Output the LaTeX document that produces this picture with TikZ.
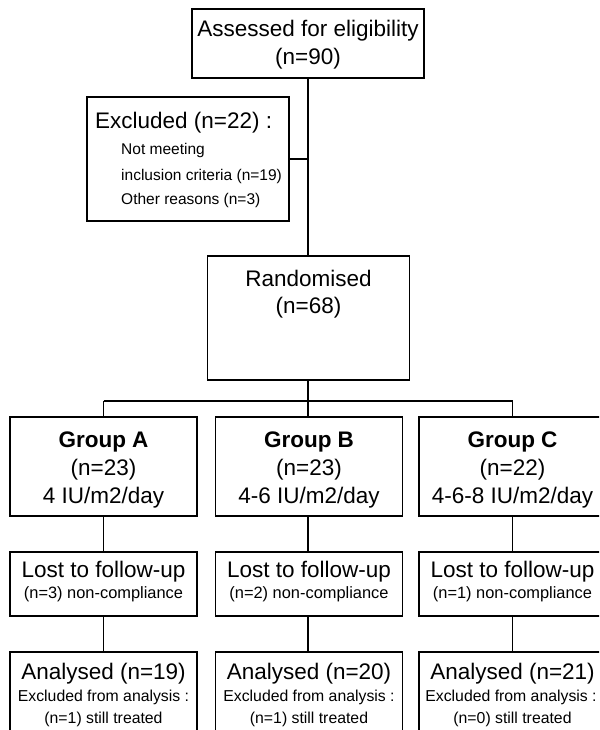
\documentclass[tikz,border=0pt]{standalone}
\usepackage{fontspec}
\setmainfont{Liberation Sans}
\begin{document}
\begin{tikzpicture}[x=1pt,y=-1pt,
  box/.style={draw=black, line width=1.9pt, rectangle, inner sep=0pt},
  conn/.style={draw=black, line width=1.9pt},
  big/.style={font=\fontsize{22.5}{27}\selectfont, inner sep=0pt, anchor=base},
  bigb/.style={font=\fontsize{22.5}{27}\selectfont\bfseries, inner sep=0pt, anchor=base},
  small/.style={font=\fontsize{15.5}{18}\selectfont, inner sep=0pt, anchor=base},
  smallb/.style={font=\fontsize{16.4}{19}\selectfont, inner sep=0pt, anchor=base},
  smalla/.style={font=\fontsize{15.8}{19}\selectfont, inner sep=0pt, anchor=base},
  grp/.style={box, minimum width=187pt, minimum height=99pt},
  lost/.style={box, minimum width=187pt, minimum height=64pt},
  anl/.style={box, minimum width=187pt, minimum height=108pt}]
\useasboundingbox (0,0) rectangle (599,730);
\fill[white] (0,0) rectangle (599,730);
\clip (0,0) rectangle (599,730);

% top boxes
\node[box, minimum width=232pt, minimum height=69pt] (assess) at (308,43.5) {};
\node[big] (t1) at (308,37) {Assessed for eligibility};
\node[big] (t2) at (308,65) {(n=90)};

\node[box, minimum width=202pt, minimum height=124pt] (excl) at (188,159) {};
\node[big, anchor=base west] (e1) at (95,129) {Excluded (n=22) :};
\node[small, anchor=base west] (e2) at (121,154.5) {Not meeting};
\node[small, anchor=base west] (e3) at (121,180.5) {inclusion criteria (n=19)};
\node[small, anchor=base west] (e4) at (121,204.5) {Other reasons (n=3)};

\node[box, minimum width=202pt, minimum height=124pt] (rand) at (308.5,318) {};
\node[big] (r1) at (308.5,286) {Randomised};
\node[big] (r2) at (308.5,313) {(n=68)};

% groups
\node[grp] (gA) at (103.5,466.5) {};
\node[grp] (gB) at (309,466.5) {};
\node[grp] (gC) at (512.5,466.5) {};
\node[bigb] (ga1) at (103.5,447) {Group A};
\node[big] (ga2) at (103.5,475) {(n=23)};
\node[big] (ga3) at (103.5,503) {4 IU/m2/day};
\node[bigb] (gb1) at (309,447) {Group B};
\node[big] (gb2) at (309,475) {(n=23)};
\node[big] (gb3) at (309,503) {4-6 IU/m2/day};
\node[bigb] (gc1) at (512.5,447) {Group C};
\node[big] (gc2) at (512.5,475) {(n=22)};
\node[big] (gc3) at (512.5,503) {4-6-8 IU/m2/day};

% lost to follow-up
\node[lost] (lA) at (103.5,584) {};
\node[lost] (lB) at (309,584) {};
\node[lost] (lC) at (512.5,584) {};
\node[big] (la1) at (103.5,577) {Lost to follow-up};
\node[smallb] (la2) at (103.5,598) {(n=3) non-compliance};
\node[big] (lb1) at (309,577) {Lost to follow-up};
\node[smallb] (lb2) at (309,598) {(n=2) non-compliance};
\node[big] (lc1) at (512.5,577) {Lost to follow-up};
\node[smallb] (lc2) at (512.5,598) {(n=1) non-compliance};

% analysed
\node[anl] (aA) at (103.5,706) {};
\node[anl] (aB) at (309,706) {};
\node[anl] (aC) at (512.5,706) {};
\node[big] (aa1) at (103.5,679) {Analysed (n=19)};
\node[smalla] (aa2) at (103.5,701.5) {Excluded from analysis :};
\node[smalla] (aa3) at (103.5,723) {(n=1) still treated};
\node[big] (ab1) at (309,679) {Analysed (n=20)};
\node[smalla] (ab2) at (309,701.5) {Excluded from analysis :};
\node[smalla] (ab3) at (309,723) {(n=1) still treated};
\node[big] (ac1) at (512.5,679) {Analysed (n=21)};
\node[smalla] (ac2) at (511,701.5) {Excluded from analysis :};
\node[smalla] (ac3) at (512.5,723) {(n=0) still treated};

% connectors
\coordinate (br) at (308,401);
\draw[conn] (assess.south) -- (assess.south |- rand.north);
\draw[conn] (excl.east) -- (excl.east -| assess.south);
\draw[conn] (rand.south -| assess.south) -- (br);
\draw[conn] (gA.north |- br) -- (gC.north |- br);
\draw[conn] (gA.north |- br) -- (gA.north);
\draw[conn] (br) -- (br |- gB.north);
\draw[conn] (gC.north |- br) -- (gC.north);
\draw[conn] (gA.south) -- (lA.north);
\draw[conn] (gB.south -| br) -- (br |- lB.north);
\draw[conn] (gC.south) -- (lC.north);
\draw[conn] (lA.south) -- (aA.north);
\draw[conn] (lB.south -| br) -- (br |- aB.north);
\draw[conn] (lC.south) -- (aC.north);
\end{tikzpicture}
\end{document}
